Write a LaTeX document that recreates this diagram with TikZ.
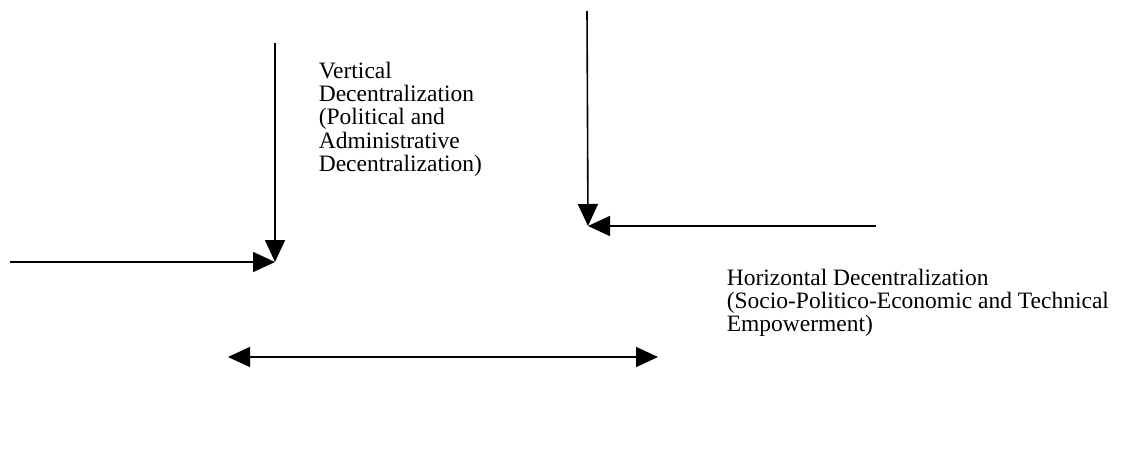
\documentclass[tikz,border=0pt]{standalone}
\usepackage{fontspec}
\setmainfont{Liberation Serif}
\usetikzlibrary{arrows.meta}

\begin{document}
\begin{tikzpicture}[x=1pt, y=-1pt, >={Triangle[length=22pt,width=20pt]}, line width=1.6pt,
  labeltext/.style={anchor=north west, inner sep=0pt, align=left,
    font=\fontsize{23.5}{23.4}\selectfont}]
  \useasboundingbox (0,0) rectangle (1126,474);

  % Vertical decentralization
  \coordinate (vtop) at (275,43);
  \coordinate (vmeet) at (275,262);
  \coordinate (vleft) at (10,262);
  \draw[->] (vtop) -- (vmeet);
  \draw[->] (vleft) -- (vmeet);
  \node[labeltext] (vtext) at (318,61)
    {Vertical\\Decentralization\\(Political and\\Administrative\\Decentralization)};

  % Horizontal decentralization
  \coordinate (htop) at (587,11);
  \coordinate (hmeet) at (588,226);
  \coordinate (hright) at (876,226);
  \draw[->] (htop) -- (hmeet);
  \draw[->] (hright) -- (hmeet);
  \node[labeltext] (htext) at (726,268)
    {Horizontal Decentralization\\(Socio-Politico-Economic and Technical\\Empowerment)};

  % Two-way link
  \coordinate (lleft) at (228,357);
  \coordinate (lright) at (658,357);
  \draw[<->] (lleft) -- (lright);
\end{tikzpicture}
\end{document}
